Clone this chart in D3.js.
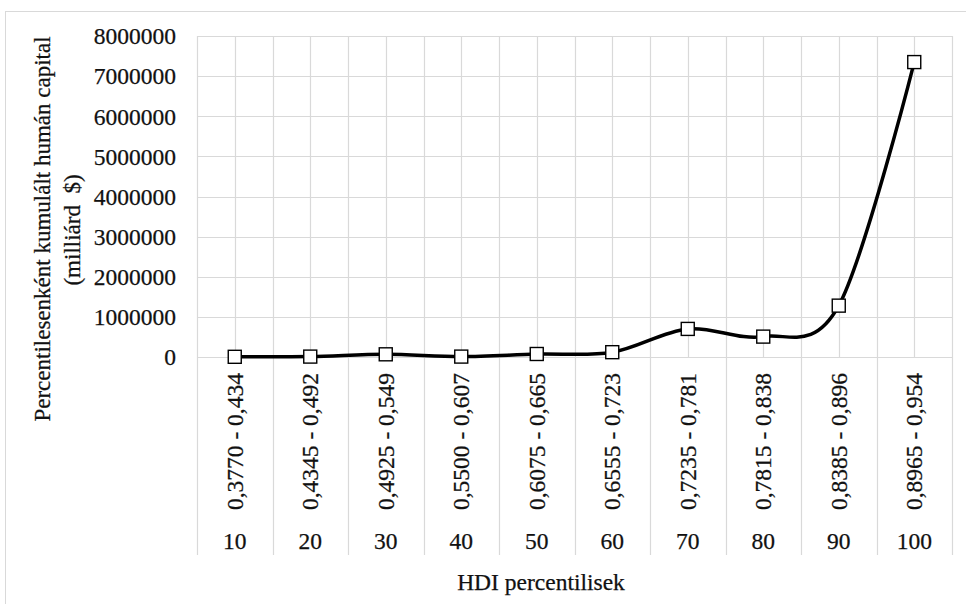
<!DOCTYPE html>
<html><head><meta charset="utf-8">
<script src="https://cdn.jsdelivr.net/npm/d3@7"></script>
<style>body{margin:0;background:#fff}svg{display:block}</style>
</head><body><svg id="c" width="966" height="604"></svg>
<script>
const percentiles = ["10","20","30","40","50","60","70","80","90","100"];
const ranges = ["0,3770 - 0,434","0,4345 - 0,492","0,4925 - 0,549","0,5500 - 0,607","0,6075 - 0,665","0,6555 - 0,723","0,7235 - 0,781","0,7815 - 0,838","0,8385 - 0,896","0,8965 - 0,954"];
const values = [5000, 10000, 67000, 10000, 75000, 120000, 700000, 508000, 1280000, 7350000];
const yTicks = [0,1000000,2000000,3000000,4000000,5000000,6000000,7000000,8000000];
const yTitle1 = "Percentilesenként kumulált humán capital";
const yTitle2 = "(milliárd  $)";
const xTitle = "HDI percentilisek";

const FONT = "'Liberation Serif','Times New Roman',serif";
const svg = d3.select("#c");
const L = 197, R = 952, T = 36, B = 357, catBottom = 555;
const grid = "#d9d9d9";
const FS = 23.5;
const TC = "#111";

svg.append("rect").attr("x",5.5).attr("y",11.5).attr("width",980).attr("height",620)
  .attr("fill","#fff").attr("stroke",grid).attr("stroke-width",1);

const x = d3.scaleBand().domain(percentiles).range([L,R]).padding(0);
const y = d3.scaleLinear().domain([0,8000000]).range([B,T]);

svg.append("g").selectAll("line").data(yTicks).join("line")
  .attr("x1",L).attr("x2",R).attr("y1",d=>Math.round(y(d))+0.5).attr("y2",d=>Math.round(y(d))+0.5)
  .attr("stroke",grid).attr("stroke-width",1.2);
svg.append("g").selectAll("line").data(percentiles).join("line")
  .attr("x1",d=>Math.round(x(d)+x.bandwidth()/2)+0.5).attr("x2",d=>Math.round(x(d)+x.bandwidth()/2)+0.5)
  .attr("y1",T).attr("y2",B).attr("stroke",grid).attr("stroke-width",1.2);
const bounds = percentiles.map(d=>x(d)).concat([R]);
svg.append("g").selectAll("line").data(bounds).join("line")
  .attr("x1",d=>Math.round(d)+0.5).attr("x2",d=>Math.round(d)+0.5)
  .attr("y1",T).attr("y2",catBottom).attr("stroke",grid).attr("stroke-width",1.2);

const yAxis = d3.axisLeft(y).tickValues(yTicks).tickFormat(d3.format("d")).tickSize(0).tickPadding(0);
const ga = svg.append("g").attr("transform",`translate(${176},0)`).call(yAxis)
  .attr("font-family",FONT).attr("font-size",FS);
ga.select(".domain").remove();
ga.selectAll("text").attr("fill",TC).attr("stroke",TC).attr("stroke-width",0.25).attr("dy","0.33em");

const tg = svg.append("g").attr("font-family",FONT).attr("font-size",FS).attr("fill",TC)
  .attr("stroke",TC).attr("stroke-width",0.25);
tg.selectAll("text.r").data(ranges).join("text").attr("class","r")
  .attr("transform",(d,i)=>`translate(${x(percentiles[i])+x.bandwidth()/2+8},373) rotate(-90)`)
  .attr("text-anchor","end").text(d=>d);
tg.selectAll("text.p").data(percentiles).join("text").attr("class","p")
  .attr("x",d=>x(d)+x.bandwidth()/2).attr("y",549)
  .attr("text-anchor","middle").text(d=>d);

const pts = values.map((v,i)=>[x(percentiles[i])+x.bandwidth()/2, y(v)]);
svg.append("path").attr("d",d3.line().curve(d3.curveCatmullRom.alpha(0))(pts))
  .attr("fill","none").attr("stroke","#000").attr("stroke-width",3.5).attr("stroke-linejoin","round");
svg.append("g").selectAll("rect").data(pts).join("rect")
  .attr("x",d=>d[0]-6.5).attr("y",d=>d[1]-6.5).attr("width",13).attr("height",13)
  .attr("fill","#fff").attr("stroke","#000").attr("stroke-width",1.4);

tg.append("text").attr("transform","translate(50,229) rotate(-90)").attr("text-anchor","middle")
  .attr("font-size",23).text(yTitle1);
tg.append("text").attr("transform","translate(80,230) rotate(-90)").attr("text-anchor","middle")
  .attr("font-size",23).style("white-space","pre").text(yTitle2);
tg.append("text").attr("x",541).attr("y",590).attr("text-anchor","middle").text(xTitle);
</script></body></html>
